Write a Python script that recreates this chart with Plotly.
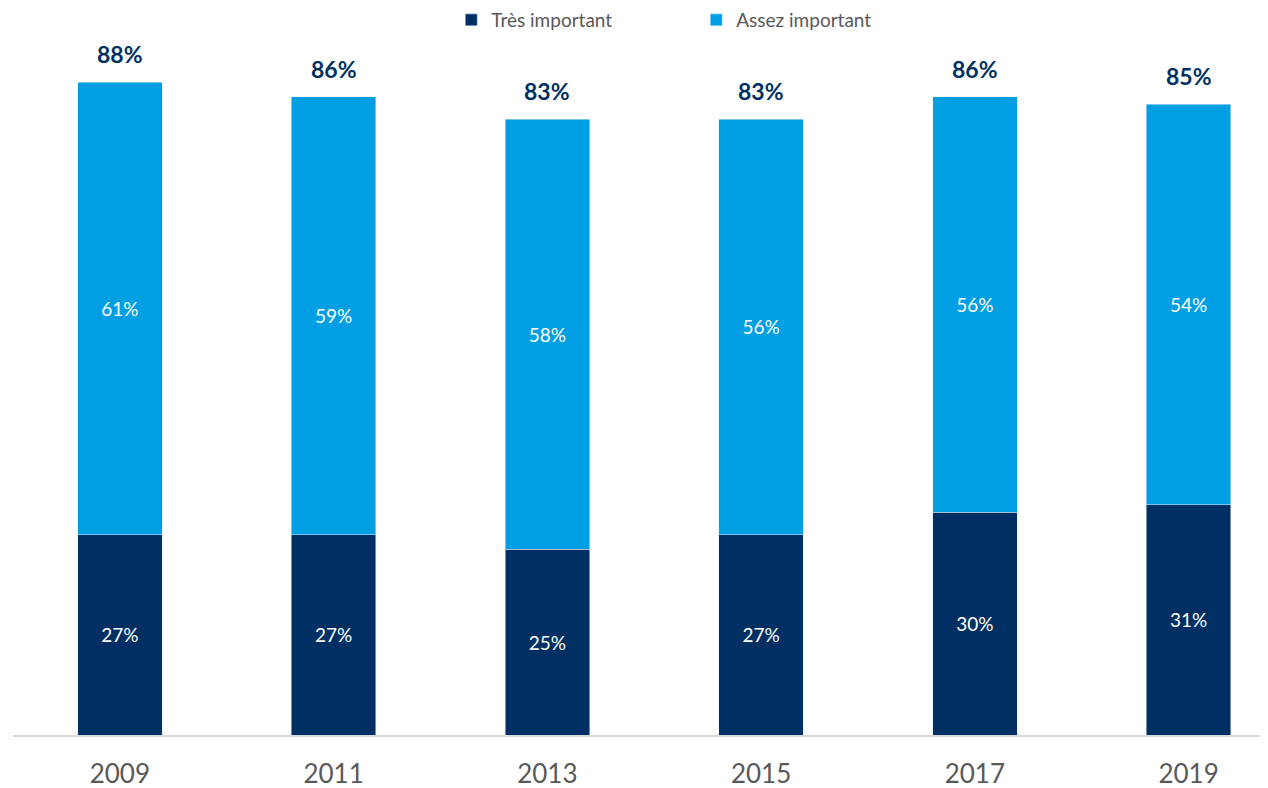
import plotly.graph_objects as go

years = ["2009", "2011", "2013", "2015", "2017", "2019"]
tres = [27, 27, 25, 27, 30, 31]
assez = [61, 59, 58, 56, 56, 54]
totals = [88, 86, 83, 83, 86, 85]

DARK = "#003063"
LIGHT = "#009FE3"
GRAY = "#595959"
FONT = "Lato, Open Sans, sans-serif"

fig = go.Figure()
fig.add_trace(go.Bar(
    x=years, y=tres, name="Très important", marker_color=DARK, width=0.395,
    text=[f"{v}%" for v in tres], textposition="inside", insidetextanchor="middle",
    textfont=dict(color="white", size=19, family=FONT),
))
fig.add_trace(go.Bar(
    x=years, y=assez, name="Assez important", marker_color=LIGHT, width=0.395,
    text=[f"{v}%" for v in assez], textposition="inside", insidetextanchor="middle",
    textfont=dict(color="white", size=19, family=FONT),
))

# totals above the stacks (category index, numeric-looking names confuse annotations)
for i, tot in enumerate(totals):
    fig.add_annotation(
        x=i, y=tot, text=f"<b>{tot}%</b>", showarrow=False,
        yanchor="bottom", yshift=12,
        font=dict(color=DARK, size=23, family=FONT),
    )

fig.update_layout(
    barmode="stack",
    width=1268, height=788,
    margin=dict(l=5, r=0, t=42, b=61, autoexpand=False),
    plot_bgcolor="white", paper_bgcolor="white",
    font=dict(family=FONT, color=GRAY),
    legend=dict(
        orientation="h", x=0.347, xanchor="left", y=1.0438, yanchor="middle",
        entrywidth=200, entrywidthmode="pixels",
        font=dict(size=19, color=GRAY), traceorder="normal",
    ),
)
fig.update_xaxes(
    type="category", range=[-0.5, 5.409], showline=True, linecolor="#d9d9d9",
    linewidth=2, ticks="", tickfont=dict(size=26, color=GRAY), showgrid=False,
    ticklabelstandoff=15,
)
fig.update_yaxes(range=[0, 88 * 685 / 653], visible=False, showgrid=False)

fig.write_html("out.html")
